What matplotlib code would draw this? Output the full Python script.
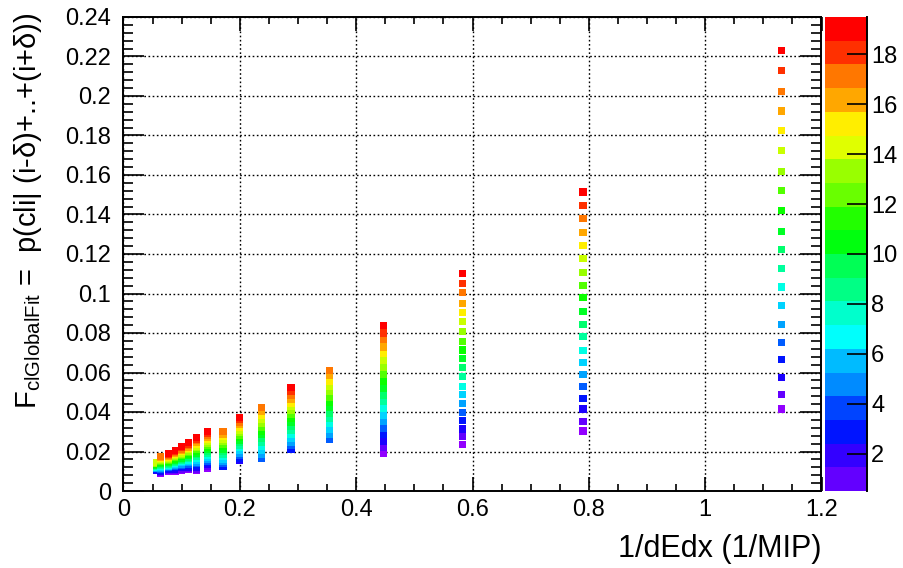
import colorsys
import numpy as np
import matplotlib
matplotlib.use("Agg")
import matplotlib.pyplot as plt
from matplotlib.colors import ListedColormap, Normalize
from matplotlib.cm import ScalarMappable
from matplotlib.ticker import MultipleLocator, FuncFormatter

plt.rcParams['font.family'] = ['Liberation Sans', 'DejaVu Sans']
plt.rcParams['mathtext.fontset'] = 'custom'
plt.rcParams['mathtext.rm'] = 'Liberation Sans'
plt.rcParams['mathtext.it'] = 'Liberation Sans'

# 1/dEdx bin centres (1/MIP)
inv_dedx = [0.056, 0.064, 0.078, 0.089, 0.100, 0.111, 0.126, 0.145, 0.171,
            0.200, 0.237, 0.288, 0.354, 0.447, 0.583, 0.790, 1.131]

# colour (z) levels, one per point in a column
z_levels = [0.5, 1.5, 2.5, 3.5, 4.5, 5.5, 6.5, 7.5, 8.5, 9.5,
            10.5, 11.5, 12.5, 13.5, 14.5, 15.5, 16.5, 17.5, 18.5, 19.5]

# index of the first z level present in each column
first_level = [1, 0, 0, 0, 0, 0, 0, 0, 3, 2, 4, 3, 4, 0, 0, 0, 0]

# F_clGlobalFit per column, lowest z level first
f_056 = [0.0102, 0.0105, 0.0109, 0.0112, 0.0115, 0.0118, 0.0121, 0.0125, 0.0128, 0.0131,
         0.0134, 0.0138, 0.0141, 0.0144]
f_064 = [0.0090, 0.0095, 0.0100, 0.0105, 0.0110, 0.0114, 0.0119, 0.0124, 0.0129, 0.0134,
         0.0139, 0.0144, 0.0149, 0.0154, 0.0159, 0.0163, 0.0168, 0.0173]
f_078 = [0.0097, 0.0102, 0.0107, 0.0112, 0.0117, 0.0122, 0.0126, 0.0131, 0.0136, 0.0141,
         0.0146, 0.0151, 0.0156, 0.0161, 0.0166, 0.0171, 0.0175, 0.0180, 0.0185, 0.0190]
f_089 = [0.0100, 0.0106, 0.0111, 0.0117, 0.0123, 0.0128, 0.0134, 0.0139, 0.0145, 0.0151,
         0.0156, 0.0162, 0.0168, 0.0173, 0.0179, 0.0184, 0.0190, 0.0196, 0.0201, 0.0207]
f_100 = [0.0104, 0.0110, 0.0117, 0.0123, 0.0129, 0.0136, 0.0142, 0.0148, 0.0155, 0.0161,
         0.0167, 0.0173, 0.0180, 0.0186, 0.0192, 0.0199, 0.0205, 0.0211, 0.0218, 0.0224]
f_111 = [0.0107, 0.0114, 0.0121, 0.0129, 0.0136, 0.0143, 0.0150, 0.0157, 0.0165, 0.0172,
         0.0179, 0.0186, 0.0193, 0.0201, 0.0208, 0.0215, 0.0222, 0.0229, 0.0237, 0.0244]
f_126 = [0.0102, 0.0111, 0.0120, 0.0129, 0.0138, 0.0147, 0.0156, 0.0165, 0.0174, 0.0183,
         0.0191, 0.0200, 0.0209, 0.0218, 0.0227, 0.0236, 0.0245, 0.0254, 0.0263, 0.0272]
f_145 = [0.0112, 0.0122, 0.0132, 0.0142, 0.0152, 0.0162, 0.0171, 0.0181, 0.0191, 0.0201,
         0.0211, 0.0221, 0.0231, 0.0241, 0.0251, 0.0260, 0.0270, 0.0280, 0.0290, 0.0300]
f_171 = [0.0124, 0.0137, 0.0149, 0.0162, 0.0174, 0.0187, 0.0199, 0.0212, 0.0225, 0.0237,
         0.0250, 0.0262, 0.0275, 0.0287, 0.0300]
f_200 = [0.0153, 0.0166, 0.0179, 0.0192, 0.0205, 0.0218, 0.0231, 0.0244, 0.0257, 0.0270,
         0.0283, 0.0296, 0.0309, 0.0322, 0.0335, 0.0348, 0.0361, 0.0374]
f_237 = [0.0165, 0.0185, 0.0205, 0.0225, 0.0244, 0.0264, 0.0284, 0.0304, 0.0324, 0.0344,
         0.0363, 0.0383, 0.0403, 0.0423]
f_288 = [0.0209, 0.0229, 0.0248, 0.0268, 0.0288, 0.0307, 0.0327, 0.0347, 0.0366, 0.0386,
         0.0406, 0.0426, 0.0445, 0.0465, 0.0485, 0.0504, 0.0524]
f_354 = [0.0259, 0.0286, 0.0313, 0.0340, 0.0367, 0.0394, 0.0421, 0.0449, 0.0476, 0.0503,
         0.0530, 0.0557, 0.0585, 0.0612]
f_447 = [0.0191, 0.0222, 0.0252, 0.0285, 0.0318, 0.0350, 0.0384, 0.0418, 0.0452, 0.0486,
         0.0520, 0.0555, 0.0589, 0.0624, 0.0660, 0.0694, 0.0729, 0.0765, 0.0800, 0.0836]
f_583 = [0.0236, 0.0275, 0.0314, 0.0356, 0.0396, 0.0441, 0.0488, 0.0530, 0.0579, 0.0623,
         0.0672, 0.0714, 0.0759, 0.0807, 0.0856, 0.0903, 0.0950, 0.1006, 0.1052, 0.1099]
f_790 = [0.0304, 0.0353, 0.0415, 0.0467, 0.0530, 0.0591, 0.0652, 0.0712, 0.0781, 0.0842,
         0.0910, 0.0979, 0.1040, 0.1107, 0.1175, 0.1242, 0.1311, 0.1379, 0.1447, 0.1514]
f_1131 = [0.0415, 0.0490, 0.0577, 0.0665, 0.0753, 0.0841, 0.0937, 0.1033, 0.1128, 0.1224,
          0.1316, 0.1419, 0.1520, 0.1620, 0.1722, 0.1823, 0.1924, 0.2025, 0.2127, 0.2229]

f_columns = [f_056, f_064, f_078, f_089, f_100, f_111, f_126, f_145, f_171,
             f_200, f_237, f_288, f_354, f_447, f_583, f_790, f_1131]

cbar_ticks = [2, 4, 6, 8, 10, 12, 14, 16, 18]


def pretty_palette(n=50, max_hue=280.0):
    # violet -> red spectrum at fixed lightness/saturation, last entry pure red
    cols = []
    for i in range(n - 1):
        hue = max_hue - (i + 1) * (max_hue / n)
        cols.append(colorsys.hls_to_rgb(hue / 360.0, 0.5, 1.0))
    cols.append((1.0, 0.0, 0.0))
    return cols


palette = pretty_palette()
marker_cmap = ListedColormap(palette)
n_contours = 20
band_cmap = ListedColormap([palette[int((k + 0.99) * len(palette) / n_contours)]
                            for k in range(n_contours)])
znorm = Normalize(vmin=z_levels[0], vmax=z_levels[-1])

W, H = 904, 568
fig = plt.figure(figsize=(W / 100, H / 100), dpi=100)
ax = fig.add_axes([123.5 / W, 77 / H, 698 / W, 474 / H])
cax = fig.add_axes([825.5 / W, 77 / H, 41.5 / W, 474 / H])

for x, vals, j0 in zip(inv_dedx, f_columns, first_level):
    z = z_levels[j0:j0 + len(vals)]
    ax.scatter([x] * len(vals), vals, c=z, cmap=marker_cmap, norm=znorm,
               marker='s', s=26, linewidths=0, zorder=3)

ax.set_xlim(0, 1.2)
ax.set_ylim(0, 0.24)
ax.xaxis.set_major_locator(MultipleLocator(0.2))
ax.xaxis.set_minor_locator(MultipleLocator(0.05))
ax.yaxis.set_major_locator(MultipleLocator(0.02))
ax.yaxis.set_minor_locator(MultipleLocator(0.004))
fmt = FuncFormatter(lambda v, pos: f"{round(v, 6):g}")
ax.xaxis.set_major_formatter(fmt)
ax.yaxis.set_major_formatter(fmt)

ax.set_axisbelow(True)
ax.grid(True, which='major', color='black', linestyle=(0, (1.2, 1.8)), linewidth=1.0)

ax.tick_params(which='both', direction='in', top=True, right=True, width=1.2,
               labelsize=17, colors='black')
ax.tick_params(axis='y', which='major', length=15, pad=9)
ax.tick_params(axis='y', which='minor', length=7.5)
ax.tick_params(axis='x', which='major', length=10, pad=6)
ax.tick_params(axis='x', which='minor', length=5)
for sp in ax.spines.values():
    sp.set_linewidth(1.4)

sm = ScalarMappable(norm=znorm, cmap=band_cmap)
cbar = fig.colorbar(sm, cax=cax)
cbar.outline.set_visible(False)
cbar.set_ticks(cbar_ticks)
cbar.ax.minorticks_off()
cax.tick_params(direction='in', length=14.5, width=1.2, labelsize=17, pad=3)
cax.plot([1, 1], [0, 1], transform=cax.transAxes, color='black', lw=1.4,
         clip_on=False)

fig.text(822 / W, 1 - 549 / H, "1/dEdx (1/MIP)", ha='right', va='center', fontsize=22)
fig.text(28 / W, 1 - 12 / H,
         r"$\mathregular{F_{clGlobalFit}}$ =  p(cli| (i-δ)+..+(i+δ))",
         rotation=90, ha='center', va='top', fontsize=21)

fig.savefig("out.png", dpi=100)
